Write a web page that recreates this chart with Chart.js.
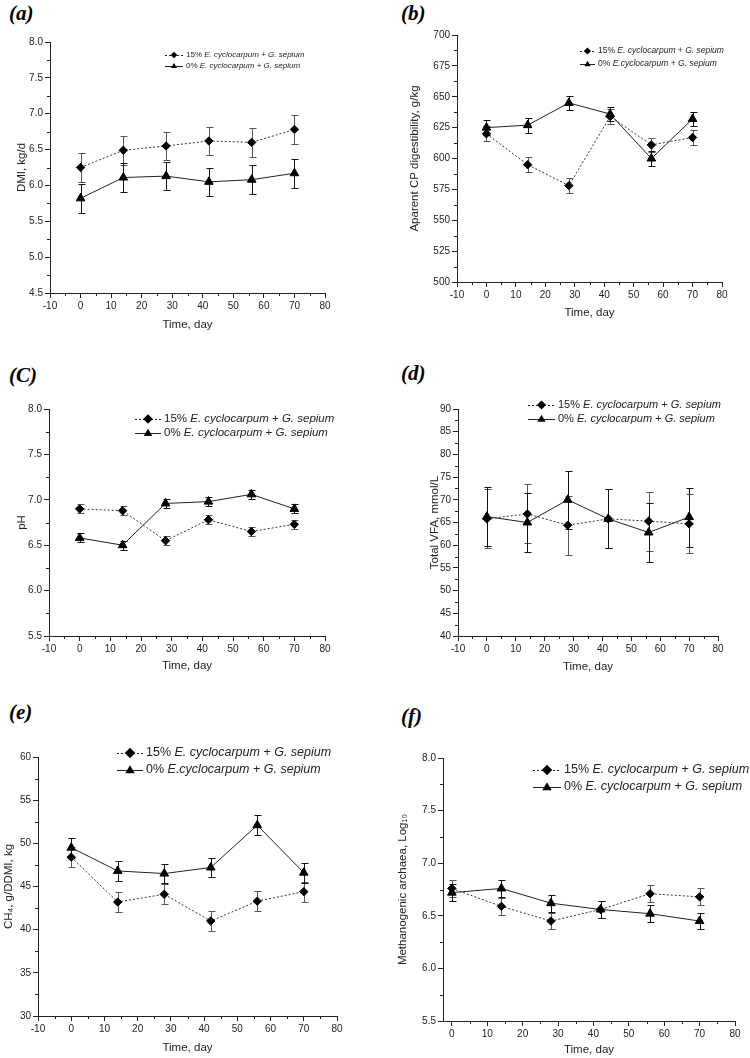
<!DOCTYPE html>
<html>
<head>
<meta charset="utf-8">
<title>Time course panels</title>
<script src="https://cdn.jsdelivr.net/npm/chart.js@4.4.1/dist/chart.umd.min.js"></script>
<style>
  html, body { margin: 0; padding: 0; background: #fff; }
  body { width: 750px; height: 1058px; position: relative; overflow: hidden; }
  canvas { position: absolute; }
  .tag { position: absolute; font-family: "Liberation Serif", "DejaVu Serif", serif; font-weight: bold; font-style: italic; font-size: 21px; line-height: 1; color: #000; }
</style>
</head>
<body>
<div class="tag" style="left:9px;top:3px">(a)</div>
<div class="tag" style="left:401px;top:3px">(b)</div>
<div class="tag" style="left:9px;top:365px">(C)</div>
<div class="tag" style="left:401px;top:363px">(d)</div>
<div class="tag" style="left:9px;top:702px">(e)</div>
<div class="tag" style="left:401px;top:706px">(f)</div>

<script>
document.addEventListener("DOMContentLoaded", function () {

    // sampling days
    const days = [0, 14, 28, 42, 56, 70];

    // (a) DMI, kg/d
    const dmi15 = [6.25, 6.49, 6.55, 6.62, 6.60, 6.78];
    const dmi15Err = [0.20, 0.20, 0.20, 0.20, 0.20, 0.20];
    const dmi0 = [5.82, 6.11, 6.13, 6.05, 6.08, 6.17];
    const dmi0Err = [0.20, 0.20, 0.20, 0.20, 0.20, 0.20];

    // (b) apparent CP digestibility, g/kg
    const cp15 = [620, 595, 578, 634, 611, 617];
    const cp15Err = [6, 6, 6, 6, 6, 6];
    const cp0 = [625, 627, 645, 636, 600, 632];
    const cp0Err = [6, 6, 6, 6, 6, 6];

    // (c) pH
    const ph15 = [6.90, 6.88, 6.55, 6.78, 6.65, 6.73];
    const ph15Err = [0.05, 0.05, 0.05, 0.05, 0.05, 0.05];
    const ph0 = [6.58, 6.50, 6.96, 6.98, 7.06, 6.90];
    const ph0Err = [0.05, 0.05, 0.05, 0.05, 0.05, 0.05];

    // (d) total VFA, mmol/L
    const vfa15 = [65.8, 66.9, 64.4, 65.8, 65.3, 64.7];
    const vfa15Err = [6.5, 6.5, 6.5, 6.5, 6.5, 6.5];
    const vfa0 = [66.3, 65.0, 70.0, 65.8, 62.8, 66.2];
    const vfa0Err = [6.5, 6.5, 6.4, 6.5, 6.5, 6.5];

    // (e) CH4, g/DDMI, kg
    const ch415 = [48.4, 43.2, 44.1, 41.0, 43.3, 44.4];
    const ch415Err = [1.15, 1.15, 1.15, 1.15, 1.15, 1.15];
    const ch40 = [49.5, 46.8, 46.5, 47.2, 52.1, 46.6];
    const ch40Err = [1.15, 1.15, 1.15, 1.15, 1.15, 1.15];

    // (f) methanogenic archaea, Log10
    const arch15 = [6.76, 6.59, 6.45, 6.56, 6.71, 6.68];
    const arch15Err = [0.08, 0.08, 0.08, 0.08, 0.08, 0.08];
    const arch0 = [6.72, 6.76, 6.62, 6.56, 6.52, 6.45];
    const arch0Err = [0.08, 0.08, 0.08, 0.08, 0.08, 0.08];

    // legend labels, _..._ marks italic
    const legend15 = "15% _E. cyclocarpum_ + _G. sepium_";
    const legend0 = "0% _E. cyclocarpum_ + _G. sepium_";
    const legend0b = "0% _E.cyclocarpum_ + _G. sepium_";

    const xTitle = "Time, day";
    const FONT = "'Liberation Sans', Arial, sans-serif";
    const INK = "#222";

    const panels = [
        { plot: [50, 42, 325, 293], yTitleX: 22, xTitleY: 325, yTitle: "DMI, kg/d",
          yMin: 4.5, yMax: 8.0, yStep: 0.5, yDec: 1, xMin: -10,
          s15: dmi15, e15: dmi15Err, s0: dmi0, e0: dmi0Err, lab0: legend0,
          legend: { x: 165, y: 55, gap: 11, size: 8, sample: 18 } },
        { plot: [457, 35, 722, 282], yTitleX: 415, xTitleY: 313, yTitle: "Aparent CP digestibility, g/kg",
          yMin: 500, yMax: 700, yStep: 25, yDec: 0, xMin: -10,
          s15: cp15, e15: cp15Err, s0: cp0, e0: cp0Err, lab0: legend0b,
          legend: { x: 580, y: 51, gap: 13, size: 8.5, sample: 15 } },
        { plot: [49, 409, 325, 636], yTitleX: 22, xTitleY: 666, yTitle: "pH",
          yMin: 5.5, yMax: 8.0, yStep: 0.5, yDec: 1, xMin: -10,
          s15: ph15, e15: ph15Err, s0: ph0, e0: ph0Err, lab0: legend0,
          legend: { x: 135, y: 419, gap: 14, size: 11.5, sample: 26 } },
        { plot: [458, 409, 718, 636], yTitleX: 435, xTitleY: 667, yTitle: "Total VFA, mmol/L",
          yMin: 40, yMax: 90, yStep: 5, yDec: 0, xMin: -10,
          s15: vfa15, e15: vfa15Err, s0: vfa0, e0: vfa0Err, lab0: legend0,
          legend: { x: 528, y: 405, gap: 14, size: 11, sample: 27 } },
        { plot: [38, 757, 337, 1016], yTitleX: 9, xTitleY: 1048, yTitle: "CH\u2084, g/DDMI, kg",
          yMin: 30, yMax: 60, yStep: 5, yDec: 0, xMin: -10,
          s15: ch415, e15: ch415Err, s0: ch40, e0: ch40Err, lab0: legend0b,
          legend: { x: 117, y: 753, gap: 17, size: 12.5, sample: 26 } },
        { plot: [443, 758, 735, 1021], yTitleX: 403, xTitleY: 1050, yTitle: "Methanogenic archaea, Log\u2081\u2080",
          yMin: 5.5, yMax: 8.0, yStep: 0.5, yDec: 1, xMin: -2.5,
          s15: arch15, e15: arch15Err, s0: arch0, e0: arch0Err, lab0: legend0,
          legend: { x: 533, y: 770, gap: 17, size: 12.5, sample: 28 } }
    ];

    // error bars drawn behind the markers
    const errorBars = {
        id: "errorBars",
        beforeDatasetsDraw(chart) {
            const ctx = chart.ctx;
            const xs = chart.scales.x, ys = chart.scales.y;
            chart.data.datasets.forEach(ds => {
                ctx.save();
                ctx.strokeStyle = ds.errorColor;
                ctx.lineWidth = 1;
                ctx.beginPath();
                ds.data.forEach((p, i) => {
                    const x = Math.round(xs.getPixelForValue(p.x)) + 0.5;
                    const top = Math.round(ys.getPixelForValue(p.y + ds.errors[i])) + 0.5;
                    const bot = Math.round(ys.getPixelForValue(p.y - ds.errors[i])) + 0.5;
                    ctx.moveTo(x, top); ctx.lineTo(x, bot);
                    ctx.moveTo(x - 3, top); ctx.lineTo(x + 4, top);
                    ctx.moveTo(x - 3, bot); ctx.lineTo(x + 4, bot);
                });
                ctx.stroke();
                ctx.restore();
            });
        }
    };

    // short minor ticks between the labelled ones
    const minorTicks = {
        id: "minorTicks",
        afterDraw(chart) {
            const ctx = chart.ctx;
            const xs = chart.scales.x, ys = chart.scales.y;
            const area = chart.chartArea;
            const xStep = 10, yStep = chart.options.scales.y.ticks.stepSize;
            ctx.save();
            ctx.strokeStyle = INK;
            ctx.lineWidth = 1;
            ctx.beginPath();
            for (let v = Math.ceil(xs.min / 5) * 5; v <= xs.max; v += 5) {
                if (Math.abs(v / xStep - Math.round(v / xStep)) < 1e-6) continue;
                const x = Math.round(xs.getPixelForValue(v)) + 0.5;
                ctx.moveTo(x, area.bottom); ctx.lineTo(x, area.bottom + 3);
            }
            const half = yStep / 2;
            for (let v = ys.min + half; v < ys.max; v += yStep) {
                const y = Math.round(ys.getPixelForValue(v)) + 0.5;
                ctx.moveTo(area.left, y); ctx.lineTo(area.left - 3, y);
            }
            ctx.stroke();
            ctx.restore();
        }
    };

    function drawMarker(ctx, style, x, y, r) {
        ctx.beginPath();
        if (style === "rectRot") {
            ctx.moveTo(x, y - r); ctx.lineTo(x + r, y); ctx.lineTo(x, y + r); ctx.lineTo(x - r, y);
        } else {
            const h = r * 1.5;
            ctx.moveTo(x, y - h * 0.6); ctx.lineTo(x + r * 0.9, y + h * 0.4); ctx.lineTo(x - r * 0.9, y + h * 0.4);
        }
        ctx.closePath();
        ctx.fill();
    }

    // legend with italic species names
    const mixedLegend = {
        id: "mixedLegend",
        afterDraw(chart, args, opts) {
            const ctx = chart.ctx;
            const lg = opts.spec;
            opts.items.forEach((item, k) => {
                const x0 = lg.x - opts.offX;
                const y = lg.y + k * lg.gap - opts.offY;
                ctx.save();
                ctx.strokeStyle = INK;
                ctx.fillStyle = "#000";
                ctx.lineWidth = 1;
                ctx.setLineDash(item.dash);
                ctx.beginPath();
                ctx.moveTo(x0, Math.round(y) + 0.5);
                ctx.lineTo(x0 + lg.sample, Math.round(y) + 0.5);
                ctx.stroke();
                ctx.setLineDash([]);
                drawMarker(ctx, item.style, x0 + lg.sample / 2, y, lg.size * 0.42);
                let tx = x0 + lg.sample + 3;
                ctx.textBaseline = "middle";
                ctx.fillStyle = INK;
                item.text.split("_").forEach((part, j) => {
                    ctx.font = (j % 2 ? "italic " : "") + lg.size + "px " + FONT;
                    ctx.fillText(part, tx, y);
                    tx += ctx.measureText(part).width;
                });
                ctx.restore();
            });
        }
    };

    panels.forEach(p => {
        const [pl, pt, pr, pb] = p.plot;
        const cl = p.yTitleX - 12;
        const ct = pt - 12;
        const cr = Math.min(pr + 20, 750);
        const cb = p.xTitleY + 12;
        const titleSize = 11.5;
        const halfLine = titleSize * 1.2 / 2;

        const canvas = document.createElement("canvas");
        canvas.width = cr - cl;
        canvas.height = cb - ct;
        canvas.style.left = cl + "px";
        canvas.style.top = ct + "px";
        document.body.appendChild(canvas);

        const pts = vals => days.map((d, i) => ({ x: d, y: vals[i] }));

        new Chart(canvas.getContext("2d"), {
            type: "line",
            data: {
                datasets: [
                    {
                        label: "15%",
                        data: pts(p.s15),
                        errors: p.e15,
                        errorColor: "#555",
                        borderColor: "#333",
                        borderWidth: 1,
                        borderDash: [2, 2],
                        pointStyle: "rectRot",
                        pointRadius: 4.2,
                        pointBackgroundColor: "#000",
                        pointBorderColor: "#000",
                        pointBorderWidth: 1,
                        fill: false
                    },
                    {
                        label: "0%",
                        data: pts(p.s0),
                        errors: p.e0,
                        errorColor: "#111",
                        borderColor: "#222",
                        borderWidth: 1,
                        pointStyle: "triangle",
                        pointRadius: 5,
                        pointBackgroundColor: "#000",
                        pointBorderColor: "#000",
                        pointBorderWidth: 1,
                        fill: false
                    }
                ]
            },
            options: {
                responsive: false,
                animation: false,
                devicePixelRatio: 1,
                layout: { padding: { top: pt - ct, right: cr - pr, left: 0, bottom: 0 } },
                plugins: {
                    legend: { display: false },
                    tooltip: { enabled: false },
                    mixedLegend: {
                        spec: p.legend,
                        offX: cl,
                        offY: ct,
                        items: [
                            { text: legend15, style: "rectRot", dash: [2, 2] },
                            { text: p.lab0, style: "triangle", dash: [] }
                        ]
                    }
                },
                scales: {
                    x: {
                        type: "linear",
                        min: p.xMin,
                        max: 80,
                        ticks: { stepSize: 10, includeBounds: false, color: INK, padding: 2, font: { family: FONT, size: 10 } },
                        grid: { drawOnChartArea: false, tickLength: 5, color: INK, tickColor: INK },
                        border: { color: INK, width: 1 },
                        title: { display: true, text: xTitle, color: INK, font: { family: FONT, size: titleSize },
                                 padding: { top: 0, bottom: 12 - halfLine } },
                        afterFit: s => { s.height = cb - pb; s.paddingLeft = 0; s.paddingRight = 0; s.paddingTop = 0; s.paddingBottom = 0; }
                    },
                    y: {
                        type: "linear",
                        min: p.yMin,
                        max: p.yMax,
                        ticks: { stepSize: p.yStep, color: INK, padding: 2, font: { family: FONT, size: 10 },
                                 callback: v => Number(v).toFixed(p.yDec) },
                        grid: { drawOnChartArea: false, tickLength: 5, color: INK, tickColor: INK },
                        border: { color: INK, width: 1 },
                        title: { display: true, text: p.yTitle, color: INK, font: { family: FONT, size: titleSize },
                                 padding: { top: 12 - halfLine, bottom: 0 } },
                        afterFit: s => { s.width = pl - cl; s.paddingLeft = 0; s.paddingRight = 0; s.paddingTop = 0; s.paddingBottom = 0; }
                    }
                }
            },
            plugins: [errorBars, minorTicks, mixedLegend]
        });
    });
});
</script>
</body>
</html>
